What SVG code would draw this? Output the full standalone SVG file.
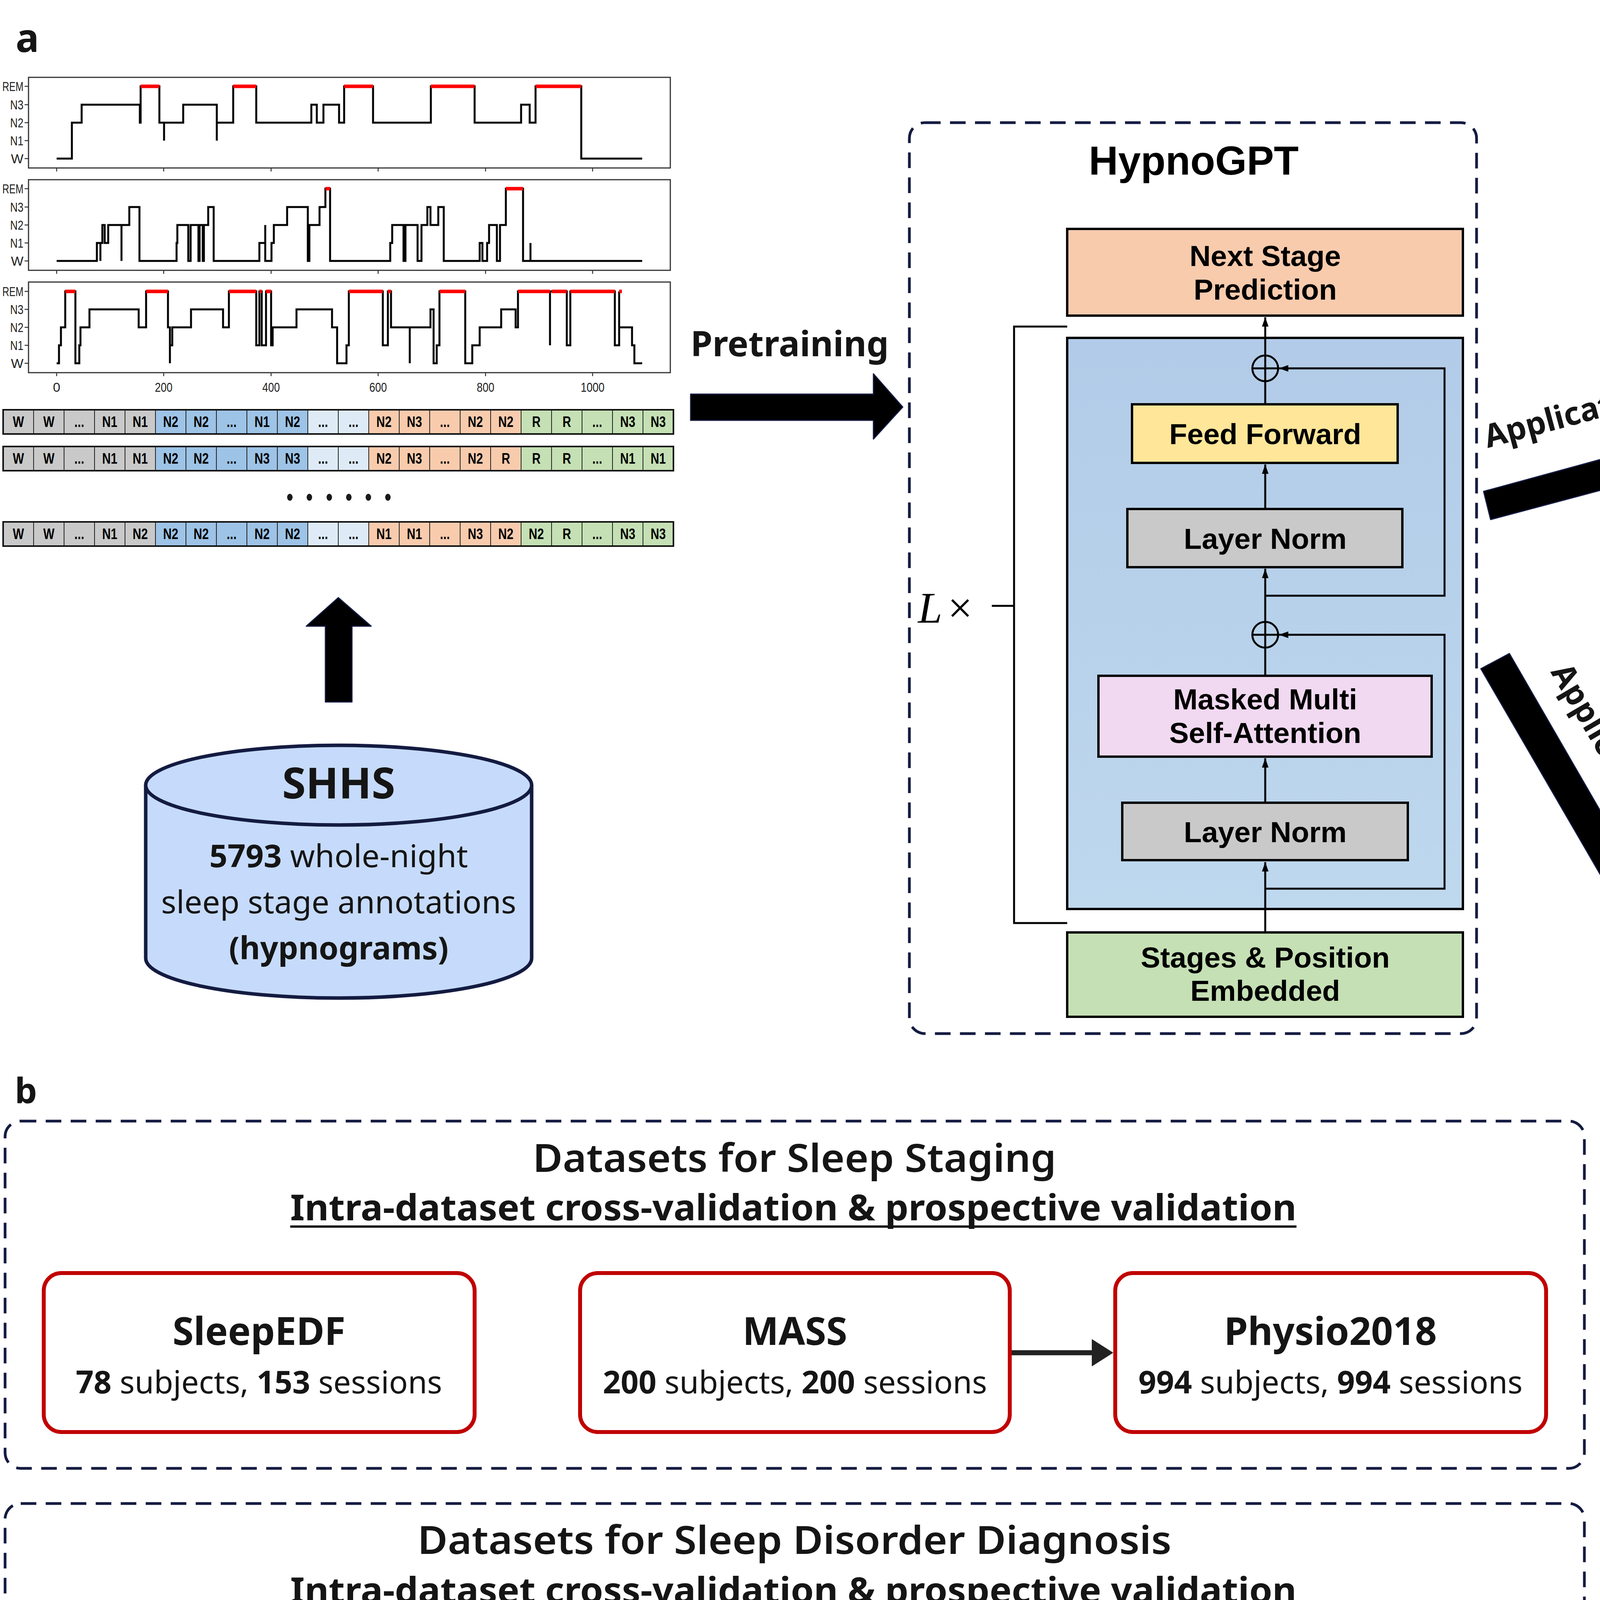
<svg xmlns="http://www.w3.org/2000/svg" xmlns:xlink="http://www.w3.org/1999/xlink" width="6862" height="4744" viewBox="0 0 6862 4744">
<defs>
<style>
.dash{fill:none;stroke:#141B41;stroke-width:7;stroke-dasharray:40 24}
.tb{font-family:'Noto Sans','Open Sans','DejaVu Sans',sans-serif;font-weight:700;fill:#151515}
.tr{font-family:'Noto Sans','Open Sans','DejaVu Sans',sans-serif;fill:#151515}
.ta{font-family:'Liberation Sans',Arial,sans-serif;font-weight:700;fill:#000;text-anchor:middle;font-size:75px}
.mid{text-anchor:middle}
.blk{fill:#000;stroke:#141B41;stroke-width:3;stroke-linejoin:round}
.ln{stroke:#000;stroke-width:5;fill:none}
.box{stroke:#000;stroke-width:6}
.sl{font-family:'Liberation Sans',Arial,sans-serif;font-weight:700;text-anchor:middle;font-size:38px;fill:#000}
.sr{font-family:'Liberation Sans',Arial,sans-serif;font-weight:700;text-anchor:middle;font-size:58px;fill:#000}
.redbox{fill:#fff;stroke:#C00000;stroke-width:10}
.ax{font-family:'Liberation Sans',Arial,sans-serif;font-size:34px;fill:#222}
.eeg{fill:none;stroke:#1a1a1a;stroke-width:2.5}
.tr1{fill:none;stroke:#000;stroke-width:5;stroke-linejoin:miter}
.rem{fill:none;stroke:#FF0000;stroke-width:9}
.num{font-family:'Liberation Sans',Arial,sans-serif;font-size:64px;text-anchor:middle}
</style>
<linearGradient id="gblue" x1="0" y1="0" x2="0" y2="1"><stop offset="0" stop-color="#B2CBE8"/><stop offset="1" stop-color="#BED8EE"/></linearGradient>
<marker id="ah" viewBox="0 0 10 10" refX="10" refY="5" markerWidth="24" markerHeight="24" markerUnits="userSpaceOnUse" orient="auto"><path d="M0,1.5 L10,5 L0,8.5 z" fill="#000"/></marker>
<path id="T1" vector-effect="non-scaling-stroke" d="M0,0 l14,-8 12,6 15,-12 13,4 14,-10 12,14 16,8 13,-4 12,-16 14,10 15,12 13,-6 12,-14 14,4 16,18 12,-8 13,-20 14,6 15,16 12,-4 13,-10 14,12 12,8 16,-18 13,-6 14,14 12,10 15,-12 13,-16 12,20 14,6 16,-8 13,-10 12,12 14,-4 15,-14 13,18 12,8 14,-6 16,-20 12,10 13,14 15,-4 12,-8 14,-12 13,16 16,6 12,-10 14,-8 13,12 15,4 12,-18 14,14 13,-6 16,10 12,-12 14,-4 13,8 15,-14 12,16 14,6 13,-10 16,-8 12,12 14,4 13,-16 15,10 12,-6 14,14 13,-12 16,-4 12,8 14,10 13,-14 15,6 12,-8 14,12 13,-4"/>
<path id="T2" vector-effect="non-scaling-stroke" d="M0,0 l12,10 14,6 13,-4 15,-18 12,-12 14,8 13,-6 16,14 12,20 14,-4 13,-10 15,-16 12,6 14,12 13,-8 16,4 12,-14 14,-20 13,10 15,18 12,14 14,-6 13,-12 16,8 12,-10 14,-4 13,16 15,-8 12,-18 14,12 13,20 16,-6 12,-10 14,4 13,-14 15,10 12,6 14,-12 13,-8 16,18 12,-4 14,-10 13,14 15,-6 12,-16 14,8 13,12 16,-10 12,4 14,-8 13,-14 15,16 12,10 14,-6 13,-4 16,-12 12,8 14,14 13,-18 15,6 12,-4 14,10 13,-8 16,-12 12,16 14,4 13,-10 15,-6 12,12 14,8 13,-14 16,4 12,-8 14,10"/>
<path id="T3" vector-effect="non-scaling-stroke" d="M0,0 l13,-6 15,10 12,14 14,-8 13,-18 16,6 12,12 14,-10 13,4 15,16 12,-14 14,-6 13,20 16,-12 12,-8 14,10 13,6 15,-16 12,8 14,12 13,-20 16,4 12,14 14,-6 13,-10 15,18 12,-4 14,-14 13,8 16,10 12,-12 14,6 13,-16 15,14 12,4 14,-8 13,12 16,-18 12,6 14,10 13,-4 15,-12 12,16 14,-6 13,-10 16,8 12,14 14,-20 13,4 15,10 12,-6 14,-8 13,18 16,-12 12,6 14,-4 13,-14 15,16 12,8 14,-10 13,-6 16,12 12,-16 14,10 13,4 15,-8 12,-12 14,14 13,6 16,-10 12,-4 14,8"/>
<path id="T4" vector-effect="non-scaling-stroke" d="M0,0 l14,12 13,-16 15,8 12,-6 14,20 13,-12 16,-8 12,14 14,4 13,-18 15,10 12,6 14,-14 13,16 16,-4 12,-10 14,8 13,-20 15,14 12,10 14,-6 13,-12 16,18 12,-8 14,-10 13,6 15,12 12,-16 14,4 13,10 16,-14 12,8 14,-6 13,16 15,-18 12,4 14,12 13,-10 16,-6 12,14 14,-12 13,8 15,-4 12,-16 14,20 13,-8 16,6 12,-12 14,10 13,-6 15,-10 12,16 14,-4 13,-12 16,8 12,14 14,-18 13,6 15,10 12,-8 14,-4 13,12 16,-16 12,6 14,10 13,-14 15,4 12,8 14,-12 13,6 16,-10 12,12"/>
<g id="rowL">
<rect x="8" y="0" width="390" height="62" fill="#C9C9C9"/>
<rect x="398" y="0" width="390" height="62" fill="#9DC3E6"/>
<rect x="788" y="0" width="156" height="62" fill="#DEEBF7"/>
<rect x="944" y="0" width="390" height="62" fill="#F8CBAD"/>
<rect x="1334" y="0" width="390" height="62" fill="#C5E0B4"/>
<path d="M86,0V62M164,0V62M242,0V62M320,0V62M398,0V62M476,0V62M554,0V62M632,0V62M710,0V62M788,0V62M866,0V62M944,0V62M1022,0V62M1100,0V62M1178,0V62M1256,0V62M1334,0V62M1412,0V62M1490,0V62M1568,0V62M1646,0V62" stroke="#222" stroke-width="2"/>
<rect x="8" y="0" width="1716" height="62" fill="none" stroke="#111" stroke-width="4"/>
</g>
<path id="sepR" d="M4579.3,0V94M4685.6,0V94M4791.9,0V94M4898.2,0V94M5004.5,0V94M5110.8,0V94M5217.1,0V94M5323.4,0V94M5429.7,0V94M5536,0V94M5642.3,0V94M5748.6,0V94M5854.9,0V94M5961.2,0V94M6067.5,0V94M6173.8,0V94M6280.1,0V94M6386.4,0V94M6492.7,0V94M6599,0V94M6705.3,0V94" stroke="#222" stroke-width="2.5"/>
</defs>
<rect width="6862" height="4744" fill="#fff"/>

<!-- ================= Panel a : hypnograms ================= -->
<g id="panel-a-label"><text x="40" y="133" class="tb" font-size="100">a</text></g>

<g id="hypnogram-plots">
<rect x="73" y="198" width="1643" height="232" fill="#fff" stroke="#333" stroke-width="3"/>
<rect x="73" y="460" width="1643" height="232" fill="#fff" stroke="#333" stroke-width="3"/>
<rect x="73" y="722" width="1643" height="232" fill="#fff" stroke="#333" stroke-width="3"/>
<path d="M63,221H73M63,268H73M63,314H73M63,360H73M63,406H73M63,483H73M63,530H73M63,576H73M63,622H73M63,668H73M63,746H73M63,792H73M63,838H73M63,884H73M63,930H73M145,430v9M419,430v9M694,430v9M968,430v9M1243,430v9M1517,430v9M145,692v9M419,692v9M694,692v9M968,692v9M1243,692v9M1517,692v9M145,954v9M419,954v9M694,954v9M968,954v9M1243,954v9M1517,954v9" stroke="#333" stroke-width="2.5"/>
<g class="ax" text-anchor="end">
<text x="60" y="233" textLength="54" lengthAdjust="spacingAndGlyphs">REM</text><text x="60" y="280" textLength="34" lengthAdjust="spacingAndGlyphs">N3</text><text x="60" y="326" textLength="34" lengthAdjust="spacingAndGlyphs">N2</text><text x="60" y="372" textLength="34" lengthAdjust="spacingAndGlyphs">N1</text><text x="60" y="418">W</text>
<text x="60" y="495" textLength="54" lengthAdjust="spacingAndGlyphs">REM</text><text x="60" y="542" textLength="34" lengthAdjust="spacingAndGlyphs">N3</text><text x="60" y="588" textLength="34" lengthAdjust="spacingAndGlyphs">N2</text><text x="60" y="634" textLength="34" lengthAdjust="spacingAndGlyphs">N1</text><text x="60" y="680">W</text>
<text x="60" y="758" textLength="54" lengthAdjust="spacingAndGlyphs">REM</text><text x="60" y="804" textLength="34" lengthAdjust="spacingAndGlyphs">N3</text><text x="60" y="850" textLength="34" lengthAdjust="spacingAndGlyphs">N2</text><text x="60" y="896" textLength="34" lengthAdjust="spacingAndGlyphs">N1</text><text x="60" y="942">W</text>
</g>
<g class="ax" text-anchor="middle">
<text x="145" y="1003">0</text><text x="419" y="1003" textLength="45" lengthAdjust="spacingAndGlyphs">200</text><text x="694" y="1003" textLength="45" lengthAdjust="spacingAndGlyphs">400</text><text x="968" y="1003" textLength="45" lengthAdjust="spacingAndGlyphs">600</text><text x="1243" y="1003" textLength="45" lengthAdjust="spacingAndGlyphs">800</text><text x="1517" y="1003" textLength="61" lengthAdjust="spacingAndGlyphs">1000</text>
</g>
<path class="tr1" d="M145,406 H184 V360 V314 H209 V268 H358 V314 H360 V221 H408 V314 H420 V360 V314 H469 V268 H555 V360 V314 H597 V221 H656 V314 H797 V268 H811 V314 H828 V268 H868 V314 H881 V221 H955 V314 H1103 V221 H1215 V314 H1334 V268 H1356 V314 H1371 V221 H1488 V314 V406 H1644"/>
<path class="rem" d="M360,221H408M597,221H656M881,221H955M1103,221H1215M1371,221H1488"/>
<path class="tr1" d="M145,668 H248 V622 H257 V668 V622 H262 V576 H268 V622 H277 V576 H311 V668 V576 H331 V530 H357 V668 H452 V622 H454 V576 H482 V668 H488 V576 H508 V668 H511 V576 H519 V668 H522 V576 H533 V530 H547 V668 H664 V622 H679 V576 V668 H695 V622 H701 V576 H735 V530 H788 V622 V668 H792 V576 H818 V530 H833 V483 H845 V668 H999 V622 H1004 V576 H1033 V668 H1038 V576 H1069 V668 H1079 V576 H1094 V530 H1102 V576 H1122 V530 H1136 V668 H1228 V622 H1235 V668 H1247 V622 H1252 V576 H1272 V668 H1280 V576 H1295 V483 H1339 V668 H1358 V622 V668 H1644"/>
<path class="rem" d="M833,483H845M1295,483H1339"/>
<path class="tr1" d="M145,930 H151 V884 H156 V838 H167 V746 H193 V930 H203 V884 H206 V838 H229 V792 H355 V838 H374 V746 H430 V838 H435 V930 V884 H441 V838 H489 V792 H571 V838 H586 V746 H656 V884 H664 V746 H670 V884 H681 V746 H694 V884 H698 V838 H759 V792 H850 V838 H863 V884 V930 H887 V884 H893 V746 H980 V884 H993 V746 H1001 V838 H1049 V930 V838 H1102 V792 H1110 V930 H1118 V884 H1125 V746 H1191 V930 H1209 V884 H1228 V838 H1283 V792 H1320 V838 H1326 V746 H1408 V884 V746 H1451 V884 H1460 V746 H1574 V884 H1585 V746 V838 H1618 V884 H1624 V930 H1644"/>
<path class="rem" d="M167,746H193M374,746H430M586,746H656M664,746H670M681,746H694M893,746H980M993,746H1001M1125,746H1191M1326,746H1408M1412,746H1451M1460,746H1574M1585,746H1592"/>
</g>

<g id="stage-sequences-a">
<use xlink:href="#rowL" href="#rowL" y="1049"/>
<use xlink:href="#rowL" href="#rowL" y="1143"/>
<use xlink:href="#rowL" href="#rowL" y="1336"/>
<g transform="scale(0.8,1)" class="sl">
<text y="1093"><tspan x="58.75">W</tspan><tspan x="156.25">W</tspan><tspan x="253.75">...</tspan><tspan x="351.25">N1</tspan><tspan x="448.75">N1</tspan><tspan x="546.25">N2</tspan><tspan x="643.75">N2</tspan><tspan x="741.25">...</tspan><tspan x="838.75">N1</tspan><tspan x="936.25">N2</tspan><tspan x="1033.75">...</tspan><tspan x="1131.25">...</tspan><tspan x="1228.75">N2</tspan><tspan x="1326.25">N3</tspan><tspan x="1423.75">...</tspan><tspan x="1521.25">N2</tspan><tspan x="1618.75">N2</tspan><tspan x="1716.25">R</tspan><tspan x="1813.75">R</tspan><tspan x="1911.25">...</tspan><tspan x="2008.75">N3</tspan><tspan x="2106.25">N3</tspan></text>
<text y="1187"><tspan x="58.75">W</tspan><tspan x="156.25">W</tspan><tspan x="253.75">...</tspan><tspan x="351.25">N1</tspan><tspan x="448.75">N1</tspan><tspan x="546.25">N2</tspan><tspan x="643.75">N2</tspan><tspan x="741.25">...</tspan><tspan x="838.75">N3</tspan><tspan x="936.25">N3</tspan><tspan x="1033.75">...</tspan><tspan x="1131.25">...</tspan><tspan x="1228.75">N2</tspan><tspan x="1326.25">N3</tspan><tspan x="1423.75">...</tspan><tspan x="1521.25">N2</tspan><tspan x="1618.75">R</tspan><tspan x="1716.25">R</tspan><tspan x="1813.75">R</tspan><tspan x="1911.25">...</tspan><tspan x="2008.75">N1</tspan><tspan x="2106.25">N1</tspan></text>
<text y="1380"><tspan x="58.75">W</tspan><tspan x="156.25">W</tspan><tspan x="253.75">...</tspan><tspan x="351.25">N1</tspan><tspan x="448.75">N2</tspan><tspan x="546.25">N2</tspan><tspan x="643.75">N2</tspan><tspan x="741.25">...</tspan><tspan x="838.75">N2</tspan><tspan x="936.25">N2</tspan><tspan x="1033.75">...</tspan><tspan x="1131.25">...</tspan><tspan x="1228.75">N1</tspan><tspan x="1326.25">N1</tspan><tspan x="1423.75">...</tspan><tspan x="1521.25">N3</tspan><tspan x="1618.75">N2</tspan><tspan x="1716.25">N2</tspan><tspan x="1813.75">R</tspan><tspan x="1911.25">...</tspan><tspan x="2008.75">N3</tspan><tspan x="2106.25">N3</tspan></text>
</g>
<g fill="#1a1a1a"><ellipse cx="742" cy="1273" rx="7" ry="9"/><ellipse cx="792" cy="1273" rx="7" ry="9"/><ellipse cx="843" cy="1273" rx="7" ry="9"/><ellipse cx="893" cy="1273" rx="7" ry="9"/><ellipse cx="943" cy="1273" rx="7" ry="9"/><ellipse cx="993" cy="1273" rx="7" ry="9"/></g>
</g>

<g id="shhs-database">
<path d="M373,2010 V2453 A494,102 0 0 0 1361,2453 V2010" fill="#C6DBFB" stroke="#141B41" stroke-width="9"/>
<ellipse cx="867" cy="2010" rx="494" ry="102" fill="#C6DBFB" stroke="#141B41" stroke-width="9"/>
<text x="867" y="2044" class="tb mid" font-size="110">SHHS</text>
<text x="867" y="2220" class="tr mid" font-size="81"><tspan font-weight="700">5793</tspan> whole-night</text>
<text x="867" y="2338" class="tr mid" font-size="81">sleep stage annotations</text>
<text x="867" y="2456" class="tb mid" font-size="81">(hypnograms)</text>
</g>

<!-- ================= HypnoGPT ================= -->
<g id="hypnogpt">
<rect class="dash" x="2328" y="314" width="1452" height="2332" rx="40"/>
<text x="3056" y="447" font-family="'Liberation Sans',Arial,sans-serif" font-weight="700" font-size="104" text-anchor="middle">HypnoGPT</text>
<g id="next-stage"><rect class="box" x="2732" y="586" width="1013" height="222" fill="#F8CBAD"/><text class="ta" x="3239" y="681">Next Stage</text><text class="ta" x="3239" y="767">Prediction</text></g>
<g id="decoder-block"><rect class="box" x="2732" y="865" width="1013" height="1462" fill="url(#gblue)"/></g>
<g id="feed-forward"><rect class="box" x="2898" y="1035" width="680" height="150" fill="#FFE699"/><text class="ta" x="3239" y="1137">Feed Forward</text></g>
<g id="layer-norm-2"><rect class="box" x="2886" y="1303" width="704" height="149" fill="#C9C9C9"/><text class="ta" x="3239" y="1405">Layer Norm</text></g>
<g id="masked-attention"><rect class="box" x="2812" y="1730" width="853" height="207" fill="#F1D9F1"/><text class="ta" x="3239" y="1816">Masked Multi</text><text class="ta" x="3239" y="1902">Self-Attention</text></g>
<g id="layer-norm-1"><rect class="box" x="2873" y="2055" width="731" height="147" fill="#C9C9C9"/><text class="ta" x="3239" y="2156">Layer Norm</text></g>
<g id="embedding"><rect class="box" x="2732" y="2387" width="1013" height="216" fill="#C5E0B4"/><text class="ta" x="3239" y="2477">Stages &amp; Position</text><text class="ta" x="3239" y="2562">Embedded</text></g>
<g id="add-1"><circle cx="3239" cy="943" r="33" fill="none" stroke="#000" stroke-width="5"/><path d="M3206,943H3272M3239,910V976" class="ln"/></g>
<g id="add-2"><circle cx="3239" cy="1625" r="33" fill="none" stroke="#000" stroke-width="5"/><path d="M3206,1625H3272M3239,1592V1658" class="ln"/></g>
<g id="repeat-bracket"><path d="M2732,836 H2596 V2363 H2732 M2539,1551 H2596" class="ln" stroke-width="6"/>
<text x="2350" y="1594" font-family="'Liberation Serif','Times New Roman',serif" font-size="112"><tspan font-style="italic">L</tspan><tspan dx="14">×</tspan></text></g>
</g>

<!-- ================= PSG-based sleep staging ================= -->
<g id="psg-panel">
<rect class="dash" x="4432" y="86" width="2416" height="2118" rx="40"/>
<text x="5641" y="215" class="tb mid" font-size="100" textLength="1268" lengthAdjust="spacingAndGlyphs">PSG-based Sleep Staging</text>
</g>
<g id="eeg-signals">
<rect x="4464" y="293" width="2350" height="615" fill="#fff" stroke="#333" stroke-width="3" stroke-dasharray="16 12"/>
<g font-family="'Liberation Sans',Arial,sans-serif" font-size="25" fill="#222">
<text x="4484" y="350">Fp1</text><text x="4484" y="380">Fp2</text><text x="4484" y="414">F3</text><text x="4484" y="444">F4</text><text x="4484" y="484">C3</text><text x="4484" y="516">C4</text><text x="4484" y="553">P3</text><text x="4484" y="588">P4</text><text x="4484" y="624">O1</text><text x="4484" y="660">O2</text><text x="4484" y="699">F7</text><text x="4484" y="733">F8</text><text x="4484" y="771">T3</text><text x="4484" y="809">T4</text><text x="4484" y="844">T5</text><text x="4484" y="879">T6</text>
</g>
<g class="eeg">
<use xlink:href="#T1" href="#T1" transform="translate(4562,342) scale(2.05,2)"/>
<use xlink:href="#T2" href="#T2" transform="translate(4562,372) scale(2.16,2)"/>
<use xlink:href="#T3" href="#T3" transform="translate(4562,406) scale(2.2,2)"/>
<use xlink:href="#T4" href="#T4" transform="translate(4562,436) scale(2.2,2)"/>
<use xlink:href="#T1" href="#T1" transform="translate(6721,476) scale(-2.05,2)"/>
<use xlink:href="#T2" href="#T2" transform="translate(6721,508) scale(-2.16,2)"/>
<use xlink:href="#T3" href="#T3" transform="translate(6721,545) scale(-2.2,2)"/>
<use xlink:href="#T4" href="#T4" transform="translate(6721,580) scale(-2.2,2)"/>
<use xlink:href="#T1" href="#T1" transform="translate(4562,616) scale(2.05,-2)"/>
<use xlink:href="#T2" href="#T2" transform="translate(4562,652) scale(2.16,-2)"/>
<use xlink:href="#T3" href="#T3" transform="translate(4562,691) scale(2.2,-2)"/>
<use xlink:href="#T4" href="#T4" transform="translate(4562,725) scale(2.2,-2)"/>
<use xlink:href="#T1" href="#T1" transform="translate(6721,763) scale(-2.05,-2)"/>
<use xlink:href="#T2" href="#T2" transform="translate(6721,801) scale(-2.16,-2)"/>
<use xlink:href="#T3" href="#T3" transform="translate(6721,836) scale(-2.2,-2)"/>
<use xlink:href="#T4" href="#T4" transform="translate(6721,871) scale(-2.2,-1.6)"/>
</g>
</g>
<g id="existing-models">
<rect x="4908" y="1064" width="1466" height="220" rx="45" fill="#FFD9D9" stroke="#000" stroke-width="10"/>
<text x="5641" y="1207" class="tb mid" font-size="92" textLength="1380" lengthAdjust="spacingAndGlyphs">Existing sleep staging models</text>
</g>
<g id="predicted-sequence">
<rect x="4466" y="1426" width="2353" height="108" fill="#fff"/>
<g fill="#FF0000"><rect x="4898.2" y="1433" width="212.6" height="94"/><rect x="5429.7" y="1433" width="106.3" height="94"/><rect x="5854.9" y="1433" width="106.3" height="94"/><rect x="6173.8" y="1433" width="212.6" height="94"/></g>
<use xlink:href="#sepR" href="#sepR" y="1433"/>
<rect x="4465.5" y="1425.5" width="2354" height="109" rx="6" fill="none" stroke="#FFA5A0" stroke-width="15"/>
<g transform="scale(0.8,1)" class="sr"><text y="1500"><tspan x="5657.7">W</tspan><tspan x="5790.6">W</tspan><tspan x="5923.4">...</tspan><tspan x="6056.3">N1</tspan><tspan x="6189.2">N3</tspan><tspan x="6322.1">W</tspan><tspan x="6455">N2</tspan><tspan x="6587.8">...</tspan><tspan x="6720.7">N2</tspan><tspan x="6853.6">N3</tspan><tspan x="6986.5">...</tspan><tspan x="7119.3">...</tspan><tspan x="7252.2">N2</tspan><tspan x="7385.1">N3</tspan><tspan x="7518">...</tspan><tspan x="7650.8">N2</tspan><tspan x="7783.7">R</tspan><tspan x="7916.6">R</tspan><tspan x="8049.5">R</tspan><tspan x="8182.3">...</tspan><tspan x="8315.2">N3</tspan><tspan x="8448.1">N3</tspan></text></g>
</g>
<g id="hypnogpt-correction">
<rect x="5005" y="1677" width="1268" height="219" rx="45" fill="#C6DBFB" stroke="#000" stroke-width="10"/>
<text x="5639" y="1821" class="tb mid" font-size="95" textLength="1008" lengthAdjust="spacingAndGlyphs">HypnoGPT correction</text>
</g>
<g id="corrected-sequence">
<rect x="4466" y="2045" width="2353" height="108" fill="#fff"/>
<g fill="#70AD47"><rect x="4898.2" y="2052" width="212.6" height="94"/><rect x="5429.7" y="2052" width="106.3" height="94"/><rect x="5854.9" y="2052" width="106.3" height="94"/><rect x="6173.8" y="2052" width="212.6" height="94"/></g>
<use xlink:href="#sepR" href="#sepR" y="2052"/>
<rect x="4465.5" y="2044.5" width="2354" height="109" rx="6" fill="none" stroke="#8EE0D2" stroke-width="15"/>
<g transform="scale(0.8,1)" class="sr"><text y="2119"><tspan x="5657.7">W</tspan><tspan x="5790.6">W</tspan><tspan x="5923.4">...</tspan><tspan x="6056.3">N1</tspan><tspan x="6189.2">N2</tspan><tspan x="6322.1">N2</tspan><tspan x="6455">N2</tspan><tspan x="6587.8">...</tspan><tspan x="6720.7">N2</tspan><tspan x="6853.6">N2</tspan><tspan x="6986.5">...</tspan><tspan x="7119.3">...</tspan><tspan x="7252.2">N2</tspan><tspan x="7385.1">N1</tspan><tspan x="7518">...</tspan><tspan x="7650.8">N2</tspan><tspan x="7783.7">N2</tspan><tspan x="7916.6">N2</tspan><tspan x="8049.5">R</tspan><tspan x="8182.3">...</tspan><tspan x="8315.2">N3</tspan><tspan x="8448.1">N3</tspan></text></g>
</g>

<!-- ================= Hypnogram-based diagnosis ================= -->
<g id="diagnosis-panel">
<rect class="dash" x="4432" y="2331" width="2416" height="2406" rx="40"/>
<text x="5639" y="2461" class="tb mid" font-size="100" textLength="2248" lengthAdjust="spacingAndGlyphs">Hypnogram-based Sleep Disorder diagnosis</text>
</g>
<g id="diagnosis-sequence">
<rect x="4464" y="2543" width="533.9" height="108" fill="#C9C9C9"/>
<rect x="4997.9" y="2543" width="533.8" height="108" fill="#9DC3E6"/>
<rect x="5531.7" y="2543" width="213.5" height="108" fill="#DEEBF7"/>
<rect x="5745.2" y="2543" width="533.9" height="108" fill="#F8CBAD"/>
<rect x="6279.1" y="2543" width="533.9" height="108" fill="#C5E0B4"/>
<path d="M4570.8,2543V2651M4677.5,2543V2651M4784.3,2543V2651M4891.1,2543V2651M4997.9,2543V2651M5104.6,2543V2651M5211.4,2543V2651M5318.2,2543V2651M5424.9,2543V2651M5531.7,2543V2651M5638.5,2543V2651M5745.2,2543V2651M5852,2543V2651M5958.8,2543V2651M6065.6,2543V2651M6172.3,2543V2651M6279.1,2543V2651M6385.9,2543V2651M6492.6,2543V2651M6599.4,2543V2651M6706.2,2543V2651" stroke="#222" stroke-width="2.5"/>
<rect x="4464" y="2543" width="2349" height="108" fill="none" stroke="#111" stroke-width="5"/>
<g transform="scale(0.8,1)" class="sr"><text y="2617"><tspan x="5646.7">W</tspan><tspan x="5780.2">W</tspan><tspan x="5913.7">...</tspan><tspan x="6047.1">N1</tspan><tspan x="6180.6">N2</tspan><tspan x="6314">N2</tspan><tspan x="6447.5">N2</tspan><tspan x="6581">...</tspan><tspan x="6714.4">N2</tspan><tspan x="6847.9">N2</tspan><tspan x="6981.3">...</tspan><tspan x="7114.8">...</tspan><tspan x="7248.3">N1</tspan><tspan x="7381.7">N1</tspan><tspan x="7515.2">...</tspan><tspan x="7648.6">N3</tspan><tspan x="7782.1">N2</tspan><tspan x="7915.6">N2</tspan><tspan x="8049">R</tspan><tspan x="8182.5">...</tspan><tspan x="8315.9">N3</tspan><tspan x="8449.4">N3</tspan></text></g>
</g>
<g id="hierarchical-transformer">
<rect x="4700" y="2846" width="1879" height="542" rx="45" fill="#FFEBD0" stroke="#000" stroke-width="12"/>
<text x="5639" y="2974" class="tr mid" font-size="100" textLength="1628" lengthAdjust="spacingAndGlyphs"><tspan font-weight="700">H</tspan>ierarchical <tspan font-weight="700">T</tspan>ransformer <tspan font-weight="700">N</tspan>etwork</text>
</g>
<g id="hypnogpt-inner">
<rect x="5009" y="3095" width="1264" height="213" rx="45" fill="#C6DBFB" stroke="#000" stroke-width="10"/>
<text x="5641" y="3233" class="tb mid" font-size="97" textLength="504" lengthAdjust="spacingAndGlyphs">HypnoGPT</text>
</g>
<g id="legend">
<circle cx="4585" cy="3657" r="46" fill="#000"/><text x="4701" y="3682" class="tr" font-size="70">Normal</text>
<circle cx="5106" cy="3657" r="46" fill="#FF7F79"/><text x="5221" y="3682" class="tr" font-size="70">Abnormal</text>
<circle cx="5760" cy="3657" r="46" fill="#7030A0"/><text x="5875" y="3682" class="tr" font-size="70">Positive</text>
<circle cx="6311" cy="3657" r="46" fill="#46BDAA"/><text x="6430" y="3682" class="tr" font-size="70">Negative</text>
</g>
<g id="chart-sleep">
<path d="M4597,3817H5628" stroke="#D9D9D9" stroke-width="7"/>
<rect x="4728" y="4001" width="356" height="553" fill="#000"/>
<rect x="5145" y="4370" width="358" height="184" fill="#FF7F79"/>
<path d="M4597,3817V4554M4570,3817H4597M5114,4554V4587" stroke="#000" stroke-width="5" fill="none"/>
<path d="M4570,4554H5628" stroke="#000" stroke-width="9"/>
<text x="4490" y="3840" class="num" text-anchor="start" font-size="70">1</text>
<text x="4490" y="4579" class="num" text-anchor="start" font-size="70">0</text>
<text x="4906" y="3963" class="num">0.75</text>
<text x="5323" y="4332" class="num" fill="#FF7F79">0.25</text>
<text x="5114" y="4684" class="tr mid" font-size="72">Sleep</text>
</g>
<g id="chart-narcolepsy">
<path d="M5797,3825H6817" stroke="#D9D9D9" stroke-width="7"/>
<rect x="5923" y="4440" width="357" height="109" fill="#7030A0"/>
<rect x="6339" y="3934" width="356" height="615" fill="#46BDAA"/>
<path d="M5797,3825V4549M5766,3825H5797M6309,4549V4582" stroke="#000" stroke-width="5" fill="none"/>
<path d="M5766,4549H6817" stroke="#000" stroke-width="9"/>
<text x="5668" y="3848" class="num" text-anchor="start" font-size="70">1</text>
<text x="5666" y="4576" class="num" text-anchor="start" font-size="70">0</text>
<text x="6101" y="4402" class="num" fill="#7030A0">0.15</text>
<text x="6516" y="3898" class="num" fill="#46BDAA">0.85</text>
<text x="6309" y="4684" class="tr mid" font-size="72">Type 1 Narcolepsy</text>
</g>

<!-- ================= Panel b ================= -->
<g id="panel-b-label"><text x="38" y="2824" class="tb" font-size="90">b</text></g>
<g id="datasets-staging">
<rect class="dash" x="13" y="2870" width="4043" height="889" rx="40"/>
<text x="2034" y="3000" class="tr mid" font-size="100" font-weight="600" textLength="1340" lengthAdjust="spacingAndGlyphs">Datasets for Sleep Staging</text>
<text x="2031" y="3124" class="tb mid" font-size="92" textLength="2576" lengthAdjust="spacingAndGlyphs">Intra-dataset cross-validation &amp; prospective validation</text>
<path d="M743,3140H3319" stroke="#151515" stroke-width="6"/>
</g>
<g id="sleepedf"><rect class="redbox" x="112" y="3259" width="1103" height="407" rx="45"/><text x="663" y="3443" class="tb mid" font-size="98">SleepEDF</text><text x="663" y="3567" class="tr mid" font-size="80"><tspan font-weight="700">78</tspan> subjects, <tspan font-weight="700">153</tspan> sessions</text></g>
<g id="mass"><rect class="redbox" x="1485" y="3259" width="1100" height="407" rx="45"/><text x="2035" y="3443" class="tb mid" font-size="98">MASS</text><text x="2035" y="3567" class="tr mid" font-size="80"><tspan font-weight="700">200</tspan> subjects, <tspan font-weight="700">200</tspan> sessions</text></g>
<g id="physio2018"><rect class="redbox" x="2855" y="3259" width="1103" height="407" rx="45"/><text x="3406" y="3443" class="tb mid" font-size="98">Physio2018</text><text x="3406" y="3567" class="tr mid" font-size="80"><tspan font-weight="700">994</tspan> subjects, <tspan font-weight="700">994</tspan> sessions</text></g>
<g id="datasets-diagnosis">
<rect class="dash" x="13" y="3849" width="4043" height="886" rx="40"/>
<text x="2034" y="3978" class="tr mid" font-size="100" font-weight="600" textLength="1930" lengthAdjust="spacingAndGlyphs">Datasets for Sleep Disorder Diagnosis</text>
<text x="2031" y="4104" class="tb mid" font-size="92" textLength="2576" lengthAdjust="spacingAndGlyphs">Intra-dataset cross-validation &amp; prospective validation</text>
<path d="M743,4120H3319" stroke="#151515" stroke-width="6"/>
</g>
<g id="mnc"><rect class="redbox" x="112" y="4240" width="1103" height="407" rx="45"/><text x="663" y="4421" class="tb mid" font-size="98">MNC</text><text x="663" y="4547" class="tr mid" font-size="80"><tspan font-weight="700">407</tspan> subjects, <tspan font-weight="700">407</tspan> sessions</text></g>
<g id="cap"><rect class="redbox" x="1485" y="4240" width="1100" height="407" rx="45"/><text x="2035" y="4421" class="tb mid" font-size="98">CAP</text><text x="2035" y="4547" class="tr mid" font-size="80"><tspan font-weight="700">108</tspan> subjects, <tspan font-weight="700">108</tspan> sessions</text></g>
<g id="isruc"><rect class="redbox" x="2855" y="4240" width="1103" height="407" rx="45"/><text x="3406" y="4421" class="tb mid" font-size="98">ISRUC</text><text x="3406" y="4547" class="tr mid" font-size="80"><tspan font-weight="700">86</tspan> subjects, <tspan font-weight="700">86</tspan> sessions</text></g>

<!-- ================= Connectors ================= -->
<g id="connectors">
<polygon class="blk" points="866,1530 950,1603 901,1603 901,1797 833,1797 833,1603 784,1603"/>
<polygon class="blk" points="1768,1009 2236,1009 2236,957 2311,1042 2236,1124 2236,1076 1768,1076"/>
<polygon class="blk" points="3798,1258 4245,1136 4239,1076 4352,1148 4289,1267 4271,1209 3816,1330"/>
<polygon class="blk" points="3791,1712 3864,1673 4298,2424 4354,2393 4310,2526 4170,2496 4228,2465"/>
<polygon class="blk" points="5611,911 5670,911 5670,998 5709,998 5640,1060 5570,998 5611,998"/>
<polygon class="blk" points="5611,1293 5670,1293 5670,1362 5709,1362 5640,1416 5570,1362 5611,1362"/>
<polygon class="blk" points="5611,1542 5670,1542 5670,1610 5709,1610 5640,1670 5570,1610 5611,1610"/>
<polygon class="blk" points="5611,1901 5670,1901 5670,1974 5709,1974 5640,2036 5570,1974 5611,1974"/>
<polygon class="blk" points="5611,2651 5670,2651 5670,2769 5709,2769 5640,2834 5570,2769 5611,2769"/>
<polygon class="blk" points="5611,3394 5670,3394 5670,3505 5709,3505 5640,3568 5570,3505 5611,3505"/>
<g class="ln" marker-end="url(#ah)">
<path d="M3239,2387V2207"/>
<path d="M3239,2055V1941"/>
<path d="M3239,1592V1456"/>
<path d="M3239,1303V1189"/>
<path d="M3239,910V812"/>
<path d="M3239,1525H3698V943H3274"/>
<path d="M3239,2275H3698V1625H3274"/>
</g>
<path class="ln" d="M3239,1730V1658M3239,1035V976"/>
<path d="M2590,3463H2800" stroke="#222" stroke-width="13"/>
<polygon points="2795,3428 2850,3463 2795,3498" fill="#222"/>
<path d="M2590,4443H2800" stroke="#222" stroke-width="13"/>
<polygon points="2795,4408 2850,4443 2795,4478" fill="#222"/>
</g>
<g id="connector-labels">
<text x="1768" y="912" class="tb" font-size="90">Pretraining</text>
<text x="4066" y="1078" class="tb mid" font-size="82" transform="rotate(-15 4066 1078)">Application 1</text>
<text x="4104" y="1950" class="tb mid" font-size="82" transform="rotate(59.5 4104 1950)">Application 2</text>
</g>
</svg>
